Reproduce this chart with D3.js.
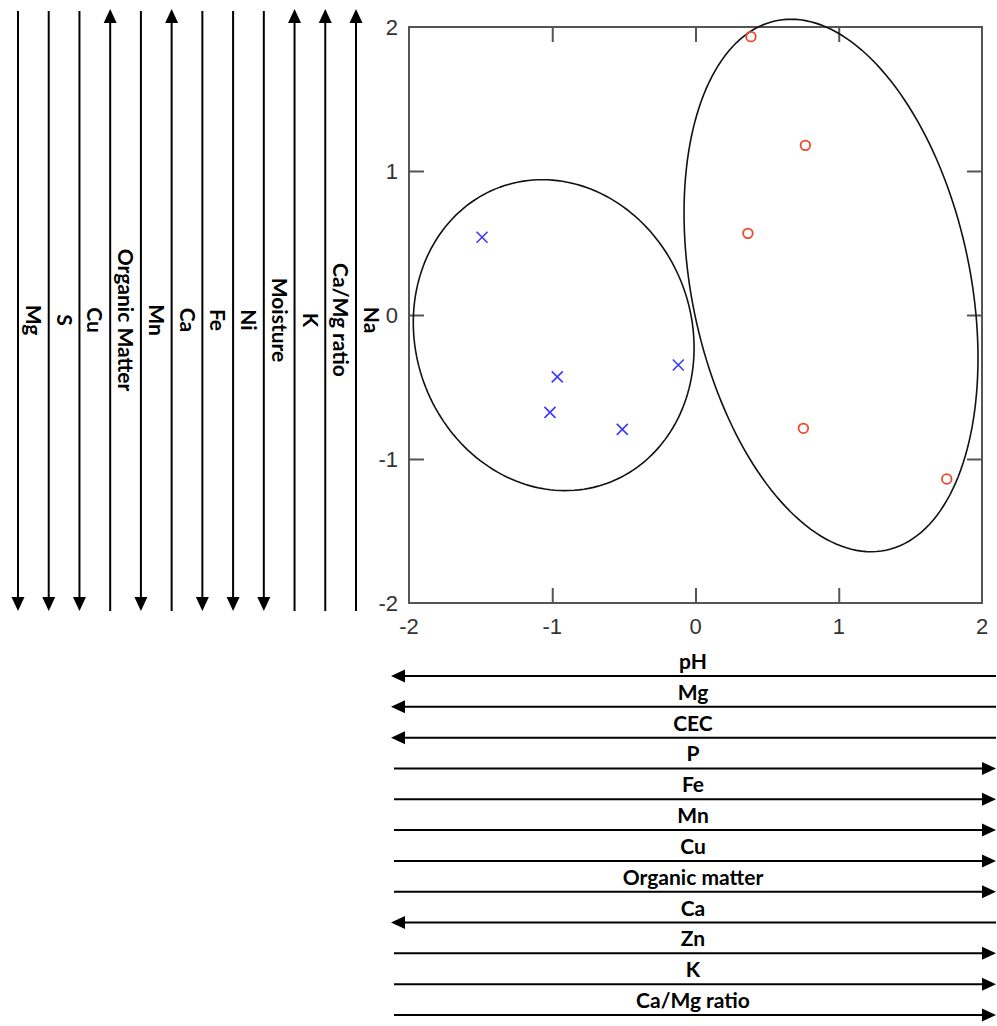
<!DOCTYPE html>
<html><head><meta charset="utf-8">
<script src="https://cdn.jsdelivr.net/npm/d3@7"></script>
<style>body{margin:0;background:#fff}svg{display:block}</style>
</head><body>
<svg id="chart" width="997" height="1026"></svg>
<script>
// ---- data ----
const xTicks = [-2, -1, 0, 1, 2];
const yTicks = [-2, -1, 0, 1, 2];
const crossX = [-1.49, -0.965, -1.016, -0.511, -0.12];
const crossY = [0.54, -0.43, -0.676, -0.794, -0.347];
const circleX = [0.387, 0.767, 0.366, 0.753, 1.754];
const circleY = [1.933, 1.178, 0.567, -0.787, -1.139];
const ellipseCx = [-0.99, 0.946];
const ellipseCy = [-0.14, 0.205];
const ellipseA = [1.094, 1.878];
const ellipseB = [0.964, 0.972];
const ellipseAngle = [110, 101.8];
const rowVars = ["pH", "Mg", "CEC", "P", "Fe", "Mn", "Cu", "Organic matter", "Ca", "Zn", "K", "Ca/Mg ratio"];
const rowDir = [-1, -1, -1, 1, 1, 1, 1, 1, -1, 1, 1, 1];   // 1 = right, -1 = left
const colVars = ["Mg", "S", "Cu", "Organic Matter", "Mn", "Ca", "Fe", "Ni", "Moisture", "K", "Ca/Mg ratio", "Na"];
const colDir = [-1, -1, -1, 1, -1, 1, -1, -1, -1, 1, 1, 1]; // 1 = up, -1 = down

// ---- layout ----
const svg = d3.select("#chart");
const plot = {left: 409, right: 982, top: 27, bottom: 603};
const x = d3.scaleLinear().domain([-2, 2]).range([plot.left, plot.right]);
const y = d3.scaleLinear().domain([-2, 2]).range([plot.bottom, plot.top]);
const axisColor = "#555";
const labelFont = "Lato, 'Open Sans', sans-serif";

// frame
svg.append("rect").attr("x", plot.left).attr("y", plot.top)
  .attr("width", plot.right - plot.left).attr("height", plot.bottom - plot.top)
  .attr("fill", "none").attr("stroke", axisColor).attr("stroke-width", 2);

// axes with inward ticks
const inner = [-1, 0, 1];
const tl = 15;
svg.append("g").attr("transform", `translate(0,${plot.bottom})`)
  .call(d3.axisBottom(x).tickValues(inner).tickSize(-tl).tickFormat(""))
  .call(g => g.select(".domain").remove())
  .call(g => g.selectAll("line").attr("stroke", axisColor).attr("stroke-width", 2));
svg.append("g").attr("transform", `translate(0,${plot.top})`)
  .call(d3.axisTop(x).tickValues(inner).tickSize(-tl).tickFormat(""))
  .call(g => g.select(".domain").remove())
  .call(g => g.selectAll("line").attr("stroke", axisColor).attr("stroke-width", 2));
svg.append("g").attr("transform", `translate(${plot.left},0)`)
  .call(d3.axisLeft(y).tickValues(inner).tickSize(-tl).tickFormat(""))
  .call(g => g.select(".domain").remove())
  .call(g => g.selectAll("line").attr("stroke", axisColor).attr("stroke-width", 2));
svg.append("g").attr("transform", `translate(${plot.right},0)`)
  .call(d3.axisRight(y).tickValues(inner).tickSize(-tl).tickFormat(""))
  .call(g => g.select(".domain").remove())
  .call(g => g.selectAll("line").attr("stroke", axisColor).attr("stroke-width", 2));

// tick labels
svg.append("g").selectAll("text").data(xTicks).join("text")
  .attr("x", d => x(d)).attr("y", plot.bottom + 31)
  .attr("text-anchor", "middle").attr("font-family", "'Liberation Sans', Arial, sans-serif")
  .attr("font-size", 22).attr("fill", "#333").text(d => d);
svg.append("g").selectAll("text").data(yTicks).join("text")
  .attr("x", plot.left - 11).attr("y", d => y(d) + 8)
  .attr("text-anchor", "end").attr("font-family", "'Liberation Sans', Arial, sans-serif")
  .attr("font-size", 22).attr("fill", "#333").text(d => d);

// ellipses
const ellLine = d3.line().x(p => x(p[0])).y(p => y(p[1]));
ellipseCx.forEach((cx, i) => {
  const th = ellipseAngle[i] * Math.PI / 180, a = ellipseA[i], b = ellipseB[i], cy = ellipseCy[i];
  const pts = d3.range(0, 361, 2).map(deg => {
    const t = deg * Math.PI / 180;
    return [cx + a * Math.cos(t) * Math.cos(th) - b * Math.sin(t) * Math.sin(th),
            cy + a * Math.cos(t) * Math.sin(th) + b * Math.sin(t) * Math.cos(th)];
  });
  svg.append("path").attr("d", ellLine(pts)).attr("fill", "none")
    .attr("stroke", "#111").attr("stroke-width", 1.6);
});

// points
const s = 5.5;
svg.append("g").selectAll("path").data(crossX.map((v, i) => [v, crossY[i]])).join("path")
  .attr("d", d => `M${x(d[0]) - s},${y(d[1]) - s}L${x(d[0]) + s},${y(d[1]) + s}M${x(d[0]) - s},${y(d[1]) + s}L${x(d[0]) + s},${y(d[1]) - s}`)
  .attr("stroke", "#3a3aff").attr("stroke-width", 1.6).attr("fill", "none");
svg.append("g").selectAll("circle").data(circleX.map((v, i) => [v, circleY[i]])).join("circle")
  .attr("cx", d => x(d[0])).attr("cy", d => y(d[1])).attr("r", 4.8)
  .attr("fill", "none").attr("stroke", "#f2462c").attr("stroke-width", 1.8);

// arrowhead helper
const headL = 14, headW = 6.5;
function head(tx, ty, dx, dy) {
  // tip at (tx,ty), pointing in direction (dx,dy)
  const bx = tx - dx * headL, by = ty - dy * headL;
  const px = -dy * headW, py = dx * headW;
  return `M${tx},${ty}L${bx + px},${by + py}L${bx - px},${by - py}Z`;
}

// bottom arrows
const rowY = d3.scalePoint().domain(rowVars).range([676, 1015]);
const rowLeft = 391, rowRight = 996;
const rows = svg.append("g");
rowVars.forEach((v, i) => {
  const yy = rowY(v), dir = rowDir[i];
  const x1 = dir < 0 ? rowLeft + headL - 1 : rowLeft + 3;
  const x2 = dir > 0 ? rowRight - headL + 1 : rowRight;
  rows.append("line").attr("x1", x1).attr("x2", x2).attr("y1", yy).attr("y2", yy)
    .attr("stroke", "#000").attr("stroke-width", 2);
  rows.append("path").attr("d", dir > 0 ? head(rowRight, yy, 1, 0) : head(rowLeft, yy, -1, 0)).attr("fill", "#000");
  rows.append("text").attr("x", 693).attr("y", yy - 7).attr("text-anchor", "middle")
    .attr("font-family", labelFont).attr("font-weight", "bold").attr("font-size", 21)
    .attr("fill", "#000").text(v);
});

// left arrows
const colX = d3.scalePoint().domain(colVars).range([18, 356]);
const colTop = 9, colBottom = 611;
const cols = svg.append("g");
colVars.forEach((v, i) => {
  const xx = colX(v), dir = colDir[i];
  const y1 = dir > 0 ? colTop + headL - 1 : colTop + 2;
  const y2 = dir < 0 ? colBottom - headL + 1 : colBottom;
  cols.append("line").attr("x1", xx).attr("x2", xx).attr("y1", y1).attr("y2", y2)
    .attr("stroke", "#000").attr("stroke-width", 2);
  cols.append("path").attr("d", dir > 0 ? head(xx, colTop, 0, -1) : head(xx, colBottom, 0, 1)).attr("fill", "#000");
  cols.append("text").attr("transform", `translate(${xx + 8},320) rotate(90)`)
    .attr("text-anchor", "middle")
    .attr("font-family", labelFont).attr("font-weight", "bold").attr("font-size", 21)
    .attr("fill", "#000").text(v);
});
</script>
</body></html>
